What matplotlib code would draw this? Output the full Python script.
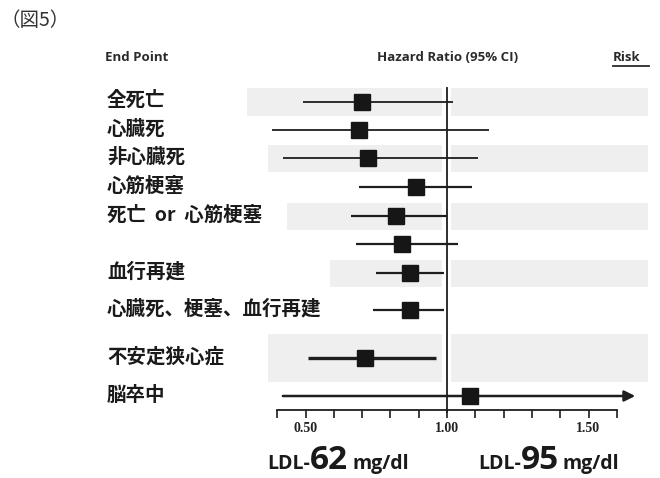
# -*- coding: utf-8 -*-
"""
Forest plot: hazard ratios by end point, LDL 62 vs 95 mg/dl
"""

import matplotlib as mpl
import matplotlib.pyplot as plt
from matplotlib.patches import Rectangle
from matplotlib.lines import Line2D

# Data
endpoints = ['全死亡', '心臓死', '非心臓死', '心筋梗塞', '死亡  or  心筋梗塞', '',
             '血行再建', '心臓死、梗塞、血行再建', '不安定狭心症', '脳卒中']
hr = [0.70, 0.69, 0.72, 0.89, 0.82, 0.84, 0.87, 0.87, 0.71, 1.08]
ci_low = [0.49, 0.38, 0.42, 0.69, 0.66, 0.68, 0.75, 0.74, 0.51, 0.42]
ci_high = [1.02, 1.15, 1.11, 1.09, 1.00, 1.04, 0.99, 0.99, 0.96, 1.70]
tick_values = [0.4, 0.5, 0.6, 0.7, 0.8, 0.9, 1.0, 1.1, 1.2, 1.3, 1.4, 1.5, 1.6]
tick_labels = ['', '0.50', '', '', '', '', '1.00', '', '', '', '', '1.50', '']

# Layout / style per row
row_y = [101.5, 130, 158, 187, 216, 244, 273, 310, 358, 396]
line_w = [1.3, 1.3, 1.3, 1.6, 1.6, 1.6, 1.6, 1.6, 2.4, 1.8]
shaded = {0: 0.293, 2: 0.367, 4: 0.435, 6: 0.587, 8: 0.367}   # row -> band start
band_h = {0: 28, 2: 27, 4: 27, 6: 27, 8: 48}

W, H = 660, 478
fig = plt.figure(figsize=(W / 100, H / 100), dpi=100)
ax = fig.add_axes([277.2 / W, 1 - 410 / H, 339.6 / W, 330 / H])
ax.set_xlim(0.4, 1.6)
ax.set_ylim(410, 80)

band_col = '#efefef'
for i, x0 in shaded.items():
    h = band_h[i]
    y0 = row_y[i] - h / 2
    ax.add_patch(Rectangle((x0, y0), 0.982 - x0, h, color=band_col,
                           lw=0, clip_on=False, zorder=0))
    ax.add_patch(Rectangle((1.014, y0), 1.71 - 1.014, h, color=band_col,
                           lw=0, clip_on=False, zorder=0))

# Reference line at HR = 1
ax.plot([1.0, 1.0], [88, 412], color='#1e1e1e', lw=1.3, clip_on=False, zorder=2)

ink = '#1e1e1e'
for i in range(len(hr)):
    y = row_y[i]
    if ci_high[i] > 1.6:
        ax.annotate('', xy=(1.665, y), xytext=(ci_low[i], y),
                    arrowprops=dict(arrowstyle='-|>', color=ink, lw=line_w[i],
                                    mutation_scale=16, shrinkA=0, shrinkB=0),
                    annotation_clip=False, zorder=3)
    else:
        ax.plot([ci_low[i], ci_high[i]], [y, y], color=ink, lw=line_w[i],
                solid_capstyle='butt', clip_on=False, zorder=3)
    ax.plot(hr[i], y, marker='s', ms=11, color='#161616', mec='#161616',
            clip_on=False, zorder=4)

# Axis formatting
for side in ['top', 'right', 'left']:
    ax.spines[side].set_visible(False)
ax.spines['bottom'].set_linewidth(1.3)
ax.spines['bottom'].set_color(ink)
ax.set_yticks([])
ax.set_xticks(tick_values)
ax.set_xticklabels(tick_labels, fontsize=10, fontweight='bold',
                   family='Liberation Serif', color='#222222')
ax.tick_params(axis='x', direction='out', length=5.5, width=1.2,
               color=ink, pad=3)
ax.patch.set_visible(False)

# Row labels
jp = ['Noto Sans CJK JP', 'DejaVu Sans']
for i, name in enumerate(endpoints):
    if name:
        fig.text(107 / W, 1 - (row_y[i] - 1) / H, name, fontsize=14,
                 fontweight='bold', family=jp, va='center', ha='left',
                 color='#1a1a1a')

# Header
fig.text(1 / W, 1 - 20 / H, '（図5）', fontsize=14, family=jp,
         va='center', ha='left', color='#333333')
hdr = dict(fontsize=9.5, fontweight='bold', family='Open Sans', va='center',
           color='#2a2a2a')
fig.text(105 / W, 1 - 57 / H, 'End Point', ha='left', **hdr)
fig.text(448 / W, 1 - 57 / H, 'Hazard Ratio (95% CI)', ha='center', **hdr)
fig.text(613 / W, 1 - 57 / H, 'Risk', ha='left', **hdr)
fig.add_artist(Line2D([613 / W, 649 / W], [1 - 66 / H, 1 - 66 / H],
                      color='#2a2a2a', lw=1.3))

# LDL captions under the axis
cap = dict(family='Open Sans', fontweight='bold', color='#1a1a1a',
           va='baseline')
for x_num, num in [(310, '62'), (521, '95')]:
    fig.text(x_num / W, 1 - 469 / H, 'LDL-', ha='right', fontsize=14, **cap)
    fig.text(x_num / W, 1 - 469 / H, num, ha='left', fontsize=24, **cap)
    fig.text((x_num + 42) / W, 1 - 469 / H, 'mg/dl', ha='left', fontsize=14, **cap)

fig.savefig('out.png', dpi=100, facecolor='white')
plt.close(fig)
